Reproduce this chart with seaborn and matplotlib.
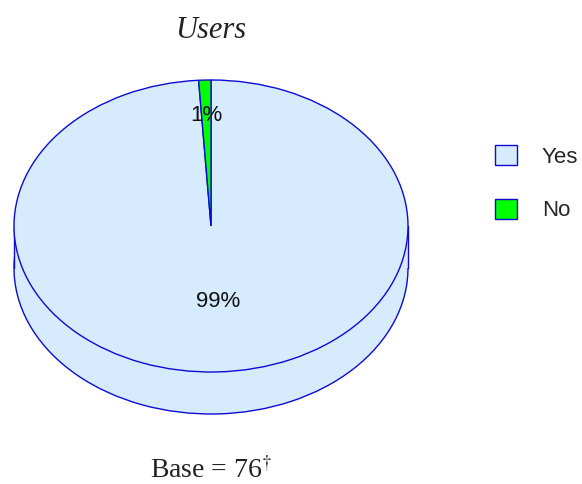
import numpy as np
import matplotlib
matplotlib.use("Agg")
import matplotlib.pyplot as plt
from matplotlib.patches import Rectangle
import seaborn as sns

# Share of users
categories = ["Yes", "No"]
shares = [99, 1]
title = "Users"
base_note = r"Base = 76$^{\dagger}$"

fill_colors = ["#D7EBFE", "#00FF00"]
edge_color = "#0C0CD4"

sns.set_theme(style="white")
plt.rcParams["font.family"] = ["Liberation Sans", "DejaVu Sans"]
plt.rcParams["mathtext.fontset"] = "stix"

W, H = 582, 484
fig = plt.figure(figsize=(W / 100, H / 100), dpi=100)
ax = fig.add_axes([0, 0, 1, 1])

# pixel geometry of the disc
cx, cy = 211, 226
rx, ry = 197, 146
depth = 42 / ry

wedge_kw = dict(edgecolor=edge_color, linewidth=1.0)

# lower face of the disc
ax.pie(shares, colors=fill_colors, startangle=90, counterclock=False,
       center=(0, -depth), wedgeprops=wedge_kw)
# side wall
ax.add_patch(Rectangle((-1, -depth), 2, depth, facecolor=fill_colors[0],
                       edgecolor="none", zorder=1))
ax.plot([-1, -1], [-depth, 0], color=edge_color, lw=1.0, zorder=1)
ax.plot([1, 1], [-depth, 0], color=edge_color, lw=1.0, zorder=1)
# top face with percentage labels
wedges, texts, autotexts = ax.pie(
    shares, colors=fill_colors, startangle=90, counterclock=False,
    wedgeprops=wedge_kw, autopct="%d%%", pctdistance=0.76,
    textprops=dict(fontsize=16, color="#111111"))
for w in wedges:
    w.set_zorder(2)
for t in autotexts:
    t.set_zorder(3)

# move the large slice's label nearer the centre
mid = np.deg2rad((wedges[0].theta1 + wedges[0].theta2) / 2)
autotexts[0].set_position((0.52 * np.cos(mid) + 0.02, 0.52 * np.sin(mid)))

ax.set_aspect("auto")
ax.set_xlim((0 - cx) / rx, (W - cx) / rx)
ax.set_ylim(-(H - cy) / ry, cy / ry)
ax.axis("off")

fig.text(cx / W, 1 - 38 / H, title, ha="center", va="baseline",
         fontsize=22, style="italic", family=["Liberation Serif", "DejaVu Serif"],
         color="#222222")
fig.text(cx / W, 1 - 478 / H, base_note, ha="center", va="baseline",
         fontsize=20, family=["Liberation Serif", "DejaVu Serif"],
         color="#222222")

leg = fig.legend(wedges, categories, loc="upper left",
                 bbox_to_anchor=(495 / W, 1 - 145 / H), frameon=False,
                 borderpad=0, borderaxespad=0, handlelength=1.0,
                 handleheight=1.0, handletextpad=1.1, labelspacing=1.4,
                 fontsize=16)

fig.savefig("out.png", dpi=100)
